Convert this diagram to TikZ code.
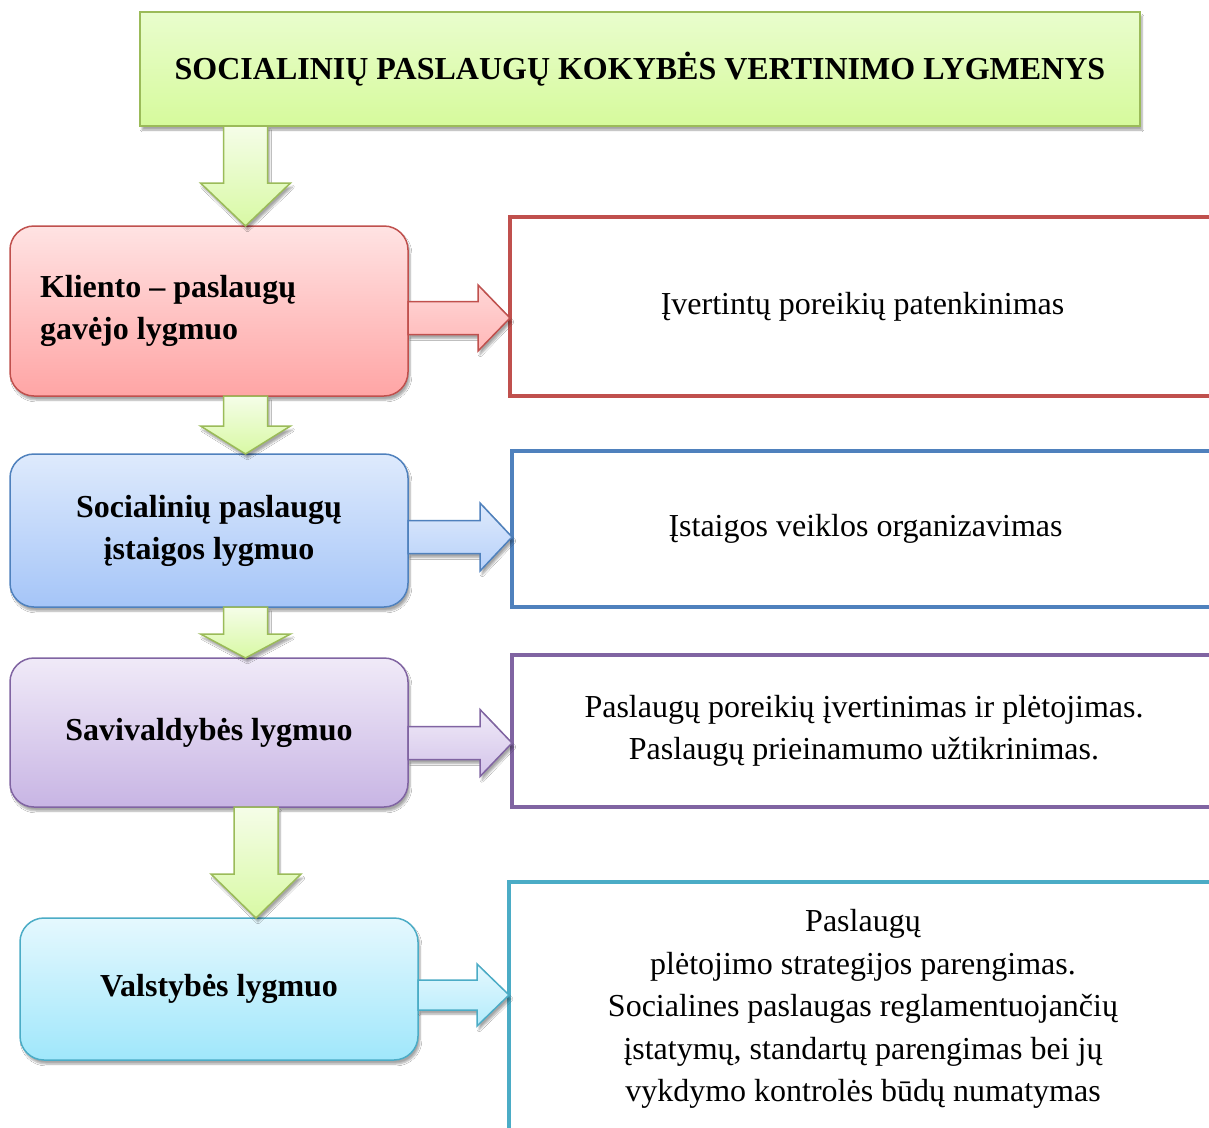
\documentclass[tikz,border=0pt]{standalone}
\usepackage{fontspec}
\setmainfont{Liberation Serif}
\usetikzlibrary{calc,shadows.blur}
\definecolor{grnB}{HTML}{9BBB59}
\definecolor{grnT}{HTML}{E9FDCD}
\definecolor{grnL}{HTML}{D6FA9C}
\definecolor{agT}{HTML}{F5FDE8}
\definecolor{agB}{HTML}{D8F9A4}
\definecolor{redB}{HTML}{C0504D}
\definecolor{redT}{HTML}{FFE3E3}
\definecolor{redL}{HTML}{FFA5A5}
\definecolor{bluB}{HTML}{4F81BD}
\definecolor{bluT}{HTML}{DEEAFC}
\definecolor{bluL}{HTML}{A5C5F8}
\definecolor{purB}{HTML}{8064A2}
\definecolor{purT}{HTML}{F0EAF8}
\definecolor{purL}{HTML}{C8B5E4}
\definecolor{cyaB}{HTML}{4BACC6}
\definecolor{cyaT}{HTML}{E5F8FE}
\definecolor{cyaL}{HTML}{A0E7FB}
\newcommand\downblock[4]{%
  \draw[#4] let \p1=#1, \p2=#2 in
  (\x1-22pt,\y1) -- (\x1+22pt,\y1) -- (\x1+22pt,\y2+#3) -- (\x1+45pt,\y2+#3)
  -- (\x1,\y2) -- (\x1-45pt,\y2+#3) -- (\x1-22pt,\y2+#3) -- cycle;}
\newcommand\rightblock[5]{%
  \draw[#5] let \p1=#1, \p2=#2 in
  (\x1,\y1+#3) -- (\x2-32pt,\y1+#3) -- (\x2-32pt,\y1+#4) -- (\x2,\y1)
  -- (\x2-32pt,\y1-#4) -- (\x2-32pt,\y1-#3) -- (\x1,\y1-#3) -- cycle;}
\begin{document}
\begin{tikzpicture}[x=1pt,y=-1pt,
  shad/.style={blur shadow={shadow xshift=2pt,shadow yshift=-4pt,shadow opacity=35,shadow blur steps=6}},
  titlebox/.style={draw=grnB,line width=2pt,top color=grnT,bottom color=grnL,anchor=north west,
    inner sep=0pt,outer sep=0pt,minimum width=1000pt,minimum height=114pt,
    font=\fontsize{32}{42}\selectfont\bfseries,shad},
  lvl/.style={rounded corners=24pt,line width=1.5pt,inner sep=0pt,outer sep=0pt,anchor=north west,
    minimum width=398pt,font=\fontsize{32}{42}\selectfont\bfseries,align=center,shad},
  rbox/.style={draw,line width=4pt,fill=white,anchor=north west,inner sep=0pt,outer sep=0pt,
    font=\fontsize{32}{42.5}\selectfont,align=center},
  garrow/.style={draw=grnB,line width=1.5pt,top color=agT,bottom color=agB,shad},
]
\useasboundingbox (0,0) rectangle (1209,1127);
\clip (0,0) rectangle (1209,1127);
\fill[white] (0,0) rectangle (1209,1127);

% title
\node[titlebox] (title) at (140,12) {SOCIALINIŲ PASLAUGŲ KOKYBĖS VERTINIMO LYGMENYS};

% left level boxes
\node[lvl,draw=redB,top color=redT,bottom color=redL,minimum height=170pt,
  inner xsep=30pt,text width=338pt,align=flush left] (k) at (10,226) {Kliento – paslaugų\\gavėjo lygmuo};
\node[lvl,draw=bluB,top color=bluT,bottom color=bluL,minimum height=153pt] (s) at (10,454)
  {Socialinių paslaugų\\įstaigos lygmuo};
\node[lvl,draw=purB,top color=purT,bottom color=purL,minimum height=149pt] (v) at (10,658)
  {Savivaldybės lygmuo};
\node[lvl,draw=cyaB,top color=cyaT,bottom color=cyaL,minimum height=142pt] (st) at (20,918)
  {Valstybės lygmuo};

% right description boxes
\node[rbox,draw=redB,minimum width=705pt,minimum height=179pt] (r1) at (510,217)
  {Įvertintų poreikių patenkinimas};
\node[rbox,draw=bluB,minimum width=707pt,minimum height=156pt] (r2) at (512,451)
  {Įstaigos veiklos organizavimas};
\node[rbox,draw=purB,minimum width=704pt,minimum height=152pt] (r3) at (512,655)
  {Paslaugų poreikių įvertinimas ir plėtojimas.\\Paslaugų prieinamumo užtikrinimas.};
\node[rbox,draw=cyaB,minimum width=708pt,minimum height=254pt] (r4) at (509,882)
  {Paslaugų\\plėtojimo strategijos parengimas.\\Socialines paslaugas reglamentuojančių\\įstatymų, standartų parengimas bei jų\\vykdymo kontrolės būdų numatymas};

% down block arrows
\downblock{($(title.south west)+(105.5,0)$)}{(k.north)}{43pt}{garrow}
\downblock{($(k.south west)+(235.5,0)$)}{(s.north)}{28pt}{garrow}
\downblock{($(s.south west)+(235.5,0)$)}{(v.north)}{24pt}{garrow}
\downblock{($(v.south west)+(246,0)$)}{(st.north)}{44pt}{garrow}

% right block arrows
\rightblock{($(k.east)+(0,7)$)}{(r1.west)}{16.5pt}{33pt}{draw=redB,line width=1.5pt,top color=redT!80!redL,bottom color=redL!80!white,shad}
\rightblock{($(s.east)+(0,6.5)$)}{(r2.west)}{16.5pt}{34pt}{draw=bluB,line width=1.5pt,top color=bluT,bottom color=bluL!80!white,shad}
\rightblock{($(v.east)+(0,10.5)$)}{(r3.west)}{16.5pt}{33.5pt}{draw=purB,line width=1.5pt,top color=purT,bottom color=purL!80!white,shad}
\rightblock{($(st.east)+(0,6)$)}{(r4.west)}{15pt}{31pt}{draw=cyaB,line width=1.5pt,top color=cyaT,bottom color=cyaL!80!white,shad}
\end{tikzpicture}
\end{document}
